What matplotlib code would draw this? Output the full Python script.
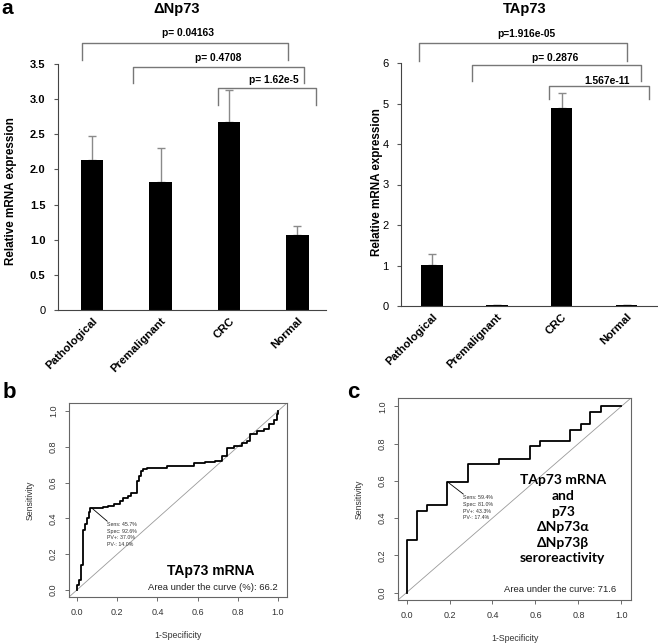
import numpy as np
import matplotlib
matplotlib.use("Agg")
import matplotlib.pyplot as plt

plt.rcParams['font.family'] = ['Liberation Sans', 'DejaVu Sans']

# panel a data
groups = ['Pathological', 'Premalignant', 'CRC', 'Normal']
dnp73_mean = [2.13, 1.82, 2.67, 1.06]
dnp73_err = [0.34, 0.49, 0.46, 0.13]
tap73_mean = [1.01, 0.03, 4.88, 0.02]
tap73_err = [0.27, 0.0, 0.38, 0.0]
dnp73_pvals = ['p= 0.04163', 'p= 0.4708', 'p= 1.62e-5']
tap73_pvals = ['p=1.916e-05', 'p= 0.2876', '1.567e-11']

# panel b ROC (TAp73 mRNA)
b_fpr = [0, 0, 0.008, 0.02, 0.032, 0.04, 0.05, 0.058, 0.067, 0.128, 0.153, 0.182,
         0.215, 0.228, 0.253, 0.27, 0.298, 0.307, 0.317, 0.33, 0.35, 0.45, 0.583,
         0.638, 0.688, 0.722, 0.747, 0.78, 0.822, 0.847, 0.863, 0.897, 0.93, 0.955,
         0.98, 0.997, 1.0]
b_tpr = [0, 0.028, 0.056, 0.14, 0.336, 0.37, 0.40, 0.434, 0.457, 0.464, 0.471, 0.482,
         0.495, 0.514, 0.523, 0.542, 0.611, 0.639, 0.664, 0.677, 0.682, 0.692, 0.707,
         0.714, 0.723, 0.748, 0.794, 0.804, 0.822, 0.832, 0.873, 0.888, 0.9, 0.925,
         0.95, 0.981, 1.0]
b_best = (0.074, 0.457)
b_stats = ['Sens: 45.7%', 'Spec: 92.6%', 'PV+: 37.0%', 'PV-: 14.0%']
b_auc = 'Area under the curve (%): 66.2'

# panel c ROC (combined)
c_fpr = [0, 0, 0.05, 0.095, 0.19, 0.285, 0.43, 0.575, 0.62, 0.76, 0.81, 0.855, 0.905, 1.0]
c_tpr = [0, 0.28, 0.44, 0.47, 0.595, 0.69, 0.72, 0.785, 0.815, 0.875, 0.905, 0.97, 1.0, 1.0]
c_best = (0.19, 0.595)
c_stats = ['Sens: 59.4%', 'Spec: 81.0%', 'PV+: 43.3%', 'PV-: 17.4%']
c_auc = 'Area under the curve: 71.6'

W, H = 658, 643
fig = plt.figure(figsize=(W / 100, H / 100), dpi=100)


def px_axes(l, t, r, b):
    return fig.add_axes([l / W, 1 - b / H, (r - l) / W, (b - t) / H])


def bar_panel(ax, means, errs, ylim, yticks, yticklabels, tickbold, brackets, pvals):
    x = np.arange(len(groups))
    ax.bar(x, means, width=0.33, color='black', zorder=2)
    ax.errorbar(x, means, yerr=[np.zeros(len(errs)), errs], fmt='none',
                ecolor='#8a8a8a', elinewidth=1, capsize=3, capthick=1, zorder=1)
    ax.set_ylim(*ylim)
    ax.set_yticks(yticks)
    ax.set_yticklabels(yticklabels, fontsize=8,
                       fontweight='bold' if tickbold else 'normal')
    ax.set_xticks(x)
    ax.set_xticklabels(groups, rotation=45, ha='right', va='top',
                       rotation_mode='anchor', fontsize=8.2, fontweight='bold')
    ax.tick_params(axis='x', length=0, pad=4)
    ax.tick_params(axis='y', length=3, color='#555555', pad=6)
    for s in ['top', 'right']:
        ax.spines[s].set_visible(False)
    for s in ['left', 'bottom']:
        ax.spines[s].set_color('#444444')
    for (x0, x1, top, leg, tx, ty), label in zip(brackets, pvals):
        ax.plot([x0, x0, x1, x1], [leg, top, top, leg], color='#777777', lw=1,
                clip_on=False)
        ax.text(tx, ty, label, ha='center', va='center', fontsize=7.4,
                fontweight='bold', clip_on=False)


# a, left
ax1 = px_axes(58, 64, 326, 310)
ax1.set_xlim(-0.5, 3.42)
bar_panel(ax1, dnp73_mean, dnp73_err, (0, 3.5), [0, 0.5, 1, 1.5, 2, 2.5, 3, 3.5],
          ['0', '0.5', '1.0', '1.5', '2.0', '2.5', '3.0', '3.5'], True,
          [(-0.15, 2.86, 3.80, 3.56, 1.40, 3.94),
           (0.60, 3.10, 3.46, 3.23, 1.84, 3.59),
           (1.84, 3.28, 3.16, 2.91, 2.66, 3.27)], dnp73_pvals)
ax1.get_yticklabels()[0].set_fontweight('normal')

# a, right
ax2 = px_axes(401, 63, 657, 306)
ax2.set_xlim(-0.48, 3.47)
bar_panel(ax2, tap73_mean, tap73_err, (0, 6), [0, 1, 2, 3, 4, 5, 6],
          ['0', '1', '2', '3', '4', '5', '6'], False,
          [(-0.2, 3.0, 6.50, 6.05, 1.45, 6.71),
           (0.62, 3.22, 5.94, 5.55, 1.90, 6.12),
           (1.80, 3.35, 5.43, 5.10, 2.70, 5.56)], tap73_pvals)

fig.text(177 / W, 1 - 9 / H, '\u0394Np73', ha='center', va='center',
         fontsize=10.5, fontweight='bold')
fig.text(525 / W, 1 - 9 / H, 'TAp73', ha='center', va='center',
         fontsize=10.5, fontweight='bold')
fig.text(11 / W, 1 - 191 / H, 'Relative mRNA expression', rotation=90,
         ha='center', va='center', fontsize=8.4, fontweight='bold')
fig.text(377 / W, 1 - 182 / H, 'Relative mRNA expression', rotation=90,
         ha='center', va='center', fontsize=8.4, fontweight='bold')


def roc_panel(ax, fpr, tpr, best, stats, txt_xy, auc, auc_xy):
    ax.set_xlim(-0.04, 1.045)
    ax.set_ylim(-0.04, 1.045)
    ax.axline((0, 0), (1, 1), color='#9a9a9a', lw=0.6)
    ax.plot(fpr, tpr, drawstyle='steps-post', color='black', lw=1.3)
    tx, ty = txt_xy
    ax.plot([best[0], tx], [best[1], ty + 0.02], color='black', lw=0.6)
    for i, s in enumerate(stats):
        ax.text(tx, ty - i * 0.036, s, fontsize=3.8, color='#333333',
                ha='left', va='center')
    ax.text(auc_xy[0], auc_xy[1], auc, fontsize=6.8, color='#222222',
            ha='right', va='center')
    ticks = [0, 0.2, 0.4, 0.6, 0.8, 1.0]
    ax.set_xticks(ticks)
    ax.set_yticks(ticks)
    ax.set_xticklabels(['%.1f' % t for t in ticks], fontsize=6.5, color='#333333')
    ax.set_yticklabels(['%.1f' % t for t in ticks], fontsize=6.5, color='#333333',
                       rotation=90, va='center')
    ax.tick_params(length=3, color='#555555', width=0.6, pad=5)
    for s in ax.spines.values():
        s.set_color('#666666')
        s.set_linewidth(0.8)
    ax.set_xlabel('1-Specificity', fontsize=6.3, color='#333333', labelpad=10)
    ax.set_ylabel('Sensitivity', fontsize=6.3, color='#333333', labelpad=10)


axb = px_axes(69, 403, 287, 597)
roc_panel(axb, b_fpr, b_tpr, b_best, b_stats, (0.15, 0.364), b_auc, (0.997, 0.012))
axb.text(0.666, 0.105, 'TAp73 mRNA', ha='center', va='center', fontsize=10,
         fontweight='bold')

axc = px_axes(398, 398, 631, 600)
roc_panel(axc, c_fpr, c_tpr, c_best, c_stats, (0.264, 0.509), c_auc, (0.977, 0.014))
axc.text(0.727, 0.393, 'TAp73 mRNA\nand\np73\n\u0394Np73\u03b1\n\u0394Np73\u03b2\nseroreactivity',
         ha='center', va='center', fontsize=10, fontweight='bold', linespacing=1.36,
         family=['Lato', 'DejaVu Sans'])

fig.text(7 / W, 1 - 9 / H, 'a', ha='center', va='center', fontsize=15, fontweight='bold')
fig.text(9 / W, 1 - 393 / H, 'b', ha='center', va='center', fontsize=16, fontweight='bold')
fig.text(353 / W, 1 - 393 / H, 'c', ha='center', va='center', fontsize=16, fontweight='bold')

fig.savefig('out.png', dpi=100)
